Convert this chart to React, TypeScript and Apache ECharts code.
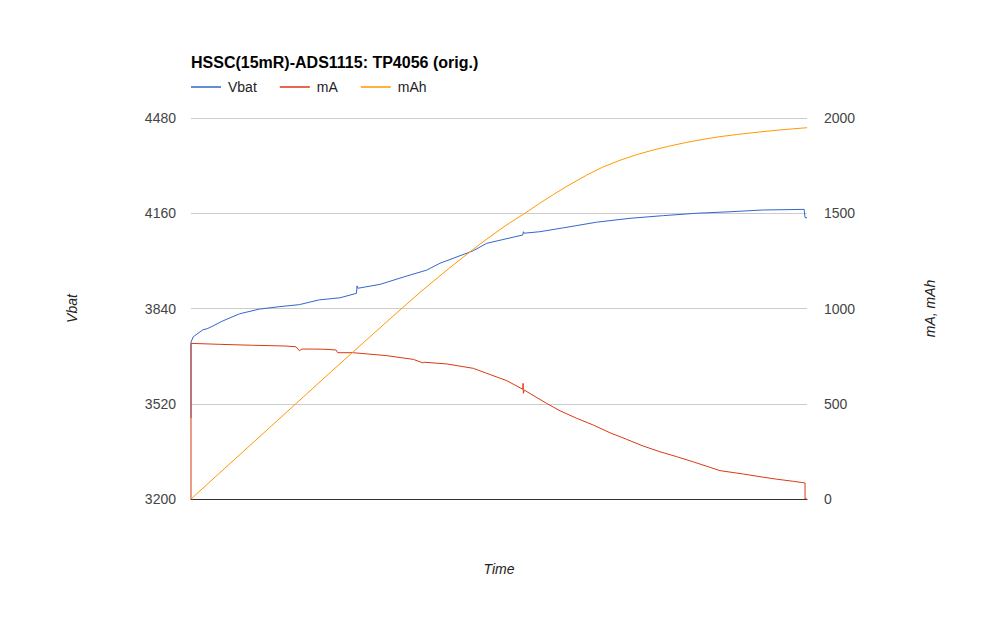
import React, { useEffect, useRef } from "react";
import * as echarts from "echarts";

// Time in minutes (x axis has no labels)
const vbatTime = [0, 0, 0.8, 4.2, 6.0, 7.8, 11.3, 17.3, 24.4, 31.5, 38.7, 45.8, 53.2, 59.1, 59.3, 59.6, 67.5, 77.0, 84.2, 88.9, 100.8, 105.6, 118.5, 118.7, 119.0, 124.6, 133.0, 144.9, 156.8, 168.7, 180.6, 192.5, 204.4, 219.0, 219.3, 220];
const vbatValues = [3472, 3727, 3745, 3768, 3773, 3781, 3798, 3822, 3838, 3846, 3853, 3869, 3876, 3891, 3916, 3908, 3921, 3949, 3969, 3992, 4034, 4059, 4087, 4098, 4093, 4098, 4111, 4130, 4143, 4152, 4160, 4165, 4171, 4173, 4145, 4145];

const maTime = [0, 0, 10.1, 22.0, 33.9, 37.5, 38.7, 39.6, 43.5, 48.2, 51.8, 52.4, 57.8, 69.6, 79.4, 82.9, 83.2, 91.3, 100.8, 105.6, 112.8, 118.5, 118.6, 118.7, 119.0, 127.0, 131.8, 137.7, 143.7, 149.6, 155.6, 161.5, 167.5, 173.5, 179.4, 185.4, 188.9, 197.3, 203.2, 209.2, 215.1, 219.3, 219.3, 220];
const maValues = [0, 817, 812, 807, 803, 799, 778, 787, 787, 786, 782, 768, 768, 753, 733, 714, 718, 709, 686, 660, 621, 576, 607, 555, 572, 502, 463, 424, 388, 348, 313, 278, 248, 222, 195, 166, 149, 131, 117, 104, 93, 84, 0, 0];

const mahTime = [0, 50.7, 71.1, 81.8, 92.5, 103.2, 110.4, 113.9, 119.3, 124.6, 129.4, 135.0, 141.3, 147.0, 153.2, 159.0, 165.1, 171.0, 177.0, 182.9, 188.9, 194.8, 200.8, 210.0, 220];
const mahValues = [0, 677, 946, 1085, 1215, 1338, 1415, 1450, 1500, 1553, 1598, 1648, 1700, 1742, 1778, 1807, 1832, 1853, 1872, 1888, 1902, 1913, 1923, 1937, 1949];

const vbatTicks = { min: 3200, max: 4480, interval: 320 };
const maTicks = { min: 0, max: 2000, interval: 500 };

const FONT = "Liberation Sans, Arial, sans-serif";

function zip(xs: number[], ys: number[]) {
  return xs.map((x, i) => [x, ys[i]]);
}

export default function App() {
  const ref = useRef<HTMLDivElement>(null);
  useEffect(() => {
    if (!ref.current) return;
    const chart = echarts.init(ref.current, undefined, { renderer: "svg" });
    chart.setOption({
      animation: false,
      backgroundColor: "#ffffff",
      textStyle: { fontFamily: FONT },
      title: {
        text: "HSSC(15mR)-ADS1115: TP4056 (orig.)",
        left: 191,
        top: 54,
        padding: 0,
        textStyle: { fontFamily: FONT, fontSize: 16, fontWeight: "bold", color: "#000" },
      },
      legend: {
        left: 191,
        top: 80,
        padding: 0,
        itemGap: 23,
        itemWidth: 30,
        itemHeight: 1.5,
        icon: "rect",
        textStyle: { fontFamily: FONT, fontSize: 14, color: "#222", padding: [0, 0, 0, 2] },
        data: ["Vbat", "mA", "mAh"],
      },
      grid: { left: 191, right: 193, top: 118, bottom: 119, containLabel: false },
      xAxis: {
        type: "value",
        min: 0,
        max: 220,
        name: "Time",
        nameLocation: "middle",
        nameGap: 63,
        nameTextStyle: { fontFamily: FONT, fontSize: 14, fontStyle: "italic", color: "#222" },
        axisLabel: { show: false },
        axisTick: { show: false },
        splitLine: { show: false },
        axisLine: { show: true, onZero: false, lineStyle: { color: "#333", width: 1 } },
      },
      yAxis: [
        {
          type: "value",
          position: "left",
          min: vbatTicks.min,
          max: vbatTicks.max,
          interval: vbatTicks.interval,
          name: "Vbat",
          nameLocation: "middle",
          nameRotate: 90,
          nameGap: 112,
          nameTextStyle: { fontFamily: FONT, fontSize: 14, fontStyle: "italic", color: "#222" },
          axisLine: { show: false },
          axisTick: { show: false },
          axisLabel: { fontFamily: FONT, fontSize: 14, color: "#444", margin: 15, formatter: (v: number) => String(v) },
          splitLine: { show: true, lineStyle: { color: "#cccccc", width: 1 } },
        },
        {
          type: "value",
          position: "right",
          min: maTicks.min,
          max: maTicks.max,
          interval: maTicks.interval,
          name: "mA, mAh",
          nameLocation: "middle",
          nameRotate: 90,
          nameGap: 116,
          nameTextStyle: { fontFamily: FONT, fontSize: 14, fontStyle: "italic", color: "#222" },
          axisLine: { show: false },
          axisTick: { show: false },
          axisLabel: { fontFamily: FONT, fontSize: 14, color: "#444", margin: 17, formatter: (v: number) => String(v) },
          splitLine: { show: false },
        },
      ],
      series: [
        {
          name: "Vbat",
          type: "line",
          yAxisIndex: 0,
          data: zip(vbatTime, vbatValues),
          showSymbol: false,
          symbol: "none",
          lineStyle: { color: "#3366cc", width: 1 },
          itemStyle: { color: "#3366cc" },
        },
        {
          name: "mA",
          type: "line",
          yAxisIndex: 1,
          data: zip(maTime, maValues),
          showSymbol: false,
          symbol: "none",
          lineStyle: { color: "#dc3912", width: 1 },
          itemStyle: { color: "#dc3912" },
        },
        {
          name: "mAh",
          type: "line",
          yAxisIndex: 1,
          data: zip(mahTime, mahValues),
          showSymbol: false,
          symbol: "none",
          lineStyle: { color: "#ff9900", width: 1 },
          itemStyle: { color: "#ff9900" },
        },
      ],
    });
    return () => chart.dispose();
  }, []);
  return (
    <div
      ref={ref}
      style={{ position: "absolute", left: 0, top: 0, width: 1000, height: 618 }}
    />
  );
}
